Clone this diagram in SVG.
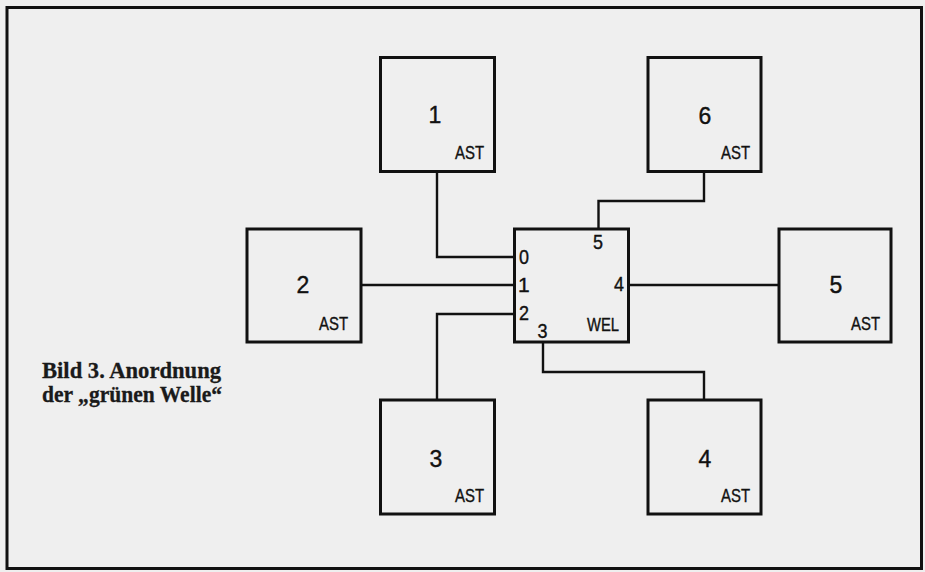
<svg xmlns="http://www.w3.org/2000/svg" width="925" height="572" viewBox="0 0 925 572">
<style>
.bg{fill:#efefef}
.frame{fill:none;stroke:#111;stroke-width:3}
.box{fill:none;stroke:#111;stroke-width:3}
.wire{fill:none;stroke:#111;stroke-width:2.4}
.num{font-family:"Liberation Sans Narrow","Liberation Sans",Arial,sans-serif;font-size:23px;fill:#111;stroke:#111;stroke-width:0.4;text-anchor:middle}
.port{font-family:"Liberation Sans Narrow","Liberation Sans",Arial,sans-serif;font-size:21px;fill:#111;stroke:#111;stroke-width:0.4}
.tag{font-family:"Liberation Sans Narrow","Liberation Sans",Arial,sans-serif;font-size:19px;fill:#111;stroke:#111;stroke-width:0.4}
.cap{font-family:"Liberation Serif","Times New Roman",serif;font-weight:bold;font-size:23px;fill:#1a1a1a;stroke:#1a1a1a;stroke-width:0.3}
</style>
<rect class="bg" x="0" y="0" width="925" height="572"/>
<rect class="frame" x="7" y="7.5" width="914.5" height="561"/>
<g id="connectors">
<path class="wire" d="M437,171 V257 H514"/>
<path class="wire" d="M361,285 H514"/>
<path class="wire" d="M704,171 V201 H598.5 V229"/>
<path class="wire" d="M628.5,285 H779"/>
<path class="wire" d="M514,314 H437 V400"/>
<path class="wire" d="M543,342 V372 H704 V400"/>
</g>
<g id="ast1">
<rect class="box" x="380.5" y="57.5" width="114" height="114"/>
<text class="num" x="435" y="123">1</text>
<text class="tag" x="455" y="159" textLength="29" lengthAdjust="spacingAndGlyphs">AST</text>
</g>
<g id="ast6">
<rect class="box" x="648" y="57.5" width="113" height="114"/>
<text class="num" x="705" y="124">6</text>
<text class="tag" x="721" y="159" textLength="29" lengthAdjust="spacingAndGlyphs">AST</text>
</g>
<g id="ast2">
<rect class="box" x="247" y="229" width="114" height="113"/>
<text class="num" x="303" y="293">2</text>
<text class="tag" x="319" y="330" textLength="29" lengthAdjust="spacingAndGlyphs">AST</text>
</g>
<g id="wel">
<rect class="box" x="514.5" y="229" width="114" height="113"/>
<text class="port" x="519" y="264" textLength="10" lengthAdjust="spacingAndGlyphs">0</text>
<text class="port" x="518" y="291.5">1</text>
<text class="port" x="519" y="320" textLength="10" lengthAdjust="spacingAndGlyphs">2</text>
<text class="port" x="537.5" y="338" textLength="10" lengthAdjust="spacingAndGlyphs">3</text>
<text class="port" x="614" y="291" textLength="10" lengthAdjust="spacingAndGlyphs">4</text>
<text class="port" x="593" y="249" textLength="10" lengthAdjust="spacingAndGlyphs">5</text>
<text class="tag" x="587" y="331" textLength="32" lengthAdjust="spacingAndGlyphs">WEL</text>
</g>
<g id="ast5">
<rect class="box" x="779" y="229" width="112" height="113"/>
<text class="num" x="836" y="293">5</text>
<text class="tag" x="851" y="330" textLength="29" lengthAdjust="spacingAndGlyphs">AST</text>
</g>
<g id="ast3">
<rect class="box" x="380.5" y="400" width="114" height="114"/>
<text class="num" x="436" y="467">3</text>
<text class="tag" x="455" y="502" textLength="29" lengthAdjust="spacingAndGlyphs">AST</text>
</g>
<g id="ast4">
<rect class="box" x="648" y="400" width="113" height="114"/>
<text class="num" x="705" y="467">4</text>
<text class="tag" x="721" y="502" textLength="29" lengthAdjust="spacingAndGlyphs">AST</text>
</g>
<g id="caption">
<text class="cap" x="42" y="378" textLength="179" lengthAdjust="spacingAndGlyphs">Bild 3. Anordnung</text>
<text class="cap" x="42" y="402" textLength="180" lengthAdjust="spacingAndGlyphs">der „grünen Welle“</text>
</g>
</svg>
